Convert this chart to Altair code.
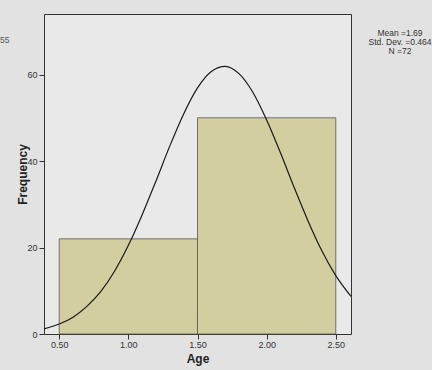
import altair as alt
import pandas as pd

# Histogram bins (Age) and counts
bin_start = [0.5, 1.5]
bin_end = [1.5, 2.5]
counts = [22, 50]

# Normal curve overlay
curve_x = [0.39, 0.5, 0.6, 0.7, 0.8, 0.9, 1.0, 1.1, 1.2, 1.3, 1.4, 1.5, 1.6, 1.7,
           1.8, 1.9, 2.0, 2.1, 2.2, 2.3, 2.4, 2.5, 2.61]
curve_y = [1.2, 2.3, 3.9, 6.4, 9.8, 14.5, 20.5, 27.6, 35.4, 43.5, 50.9, 56.9, 60.7, 61.9,
           60.2, 55.9, 49.5, 41.9, 33.8, 26.1, 19.2, 13.5, 8.7]

x_ticks = [0.5, 1.0, 1.5, 2.0, 2.5]
y_ticks = [0, 20, 40, 60]

stats_lines = ["Mean =1.69", "Std. Dev. =0.464", "N =72"]

bars = pd.DataFrame({"start": bin_start, "end": bin_end, "count": counts})
curve = pd.DataFrame({"x": curve_x, "y": curve_y})

FONT = "Liberation Sans"
xscale = alt.Scale(domain=[0.39, 2.61], nice=False, zero=False)
yscale = alt.Scale(domain=[0, 74], nice=False)

xaxis = alt.Axis(values=x_ticks, format=".2f", title="Age", grid=False, domain=False,
                 labelFont=FONT, labelFontSize=9, labelColor="#333333",
                 tickColor="#333333", tickSize=5, labelPadding=1,
                 titleFont=FONT, titleFontSize=12, titleFontWeight="bold",
                 titleColor="#222222", titleY=24, titleBaseline="middle")
yaxis = alt.Axis(values=y_ticks, title="Frequency", grid=False, domain=False,
                 labelFont=FONT, labelFontSize=9, labelColor="#333333",
                 tickColor="#333333", tickSize=5, labelPadding=2,
                 titleFont=FONT, titleFontSize=12, titleFontWeight="bold",
                 titleColor="#222222", titleX=-22, titleBaseline="middle")

bar_layer = alt.Chart(bars).mark_rect(
    fill="#d2cea0", stroke="#555555", strokeWidth=0.8
).encode(
    x=alt.X("start:Q", scale=xscale, axis=xaxis),
    x2="end:Q",
    y=alt.Y("count:Q", scale=yscale, axis=yaxis),
    y2=alt.datum(0),
)

line_layer = alt.Chart(curve).mark_line(
    color="#1a1a1a", strokeWidth=1.2, interpolate="monotone"
).encode(x=alt.X("x:Q", scale=xscale), y=alt.Y("y:Q", scale=yscale))

stats_layers = [
    alt.Chart(pd.DataFrame({"t": [s]})).mark_text(
        font=FONT, fontSize=8.5, color="#333333", align="center", baseline="middle"
    ).encode(x=alt.value(356), y=alt.value(19 + 9 * k), text="t:N")
    for k, s in enumerate(stats_lines)
]

frag_layer = alt.Chart(pd.DataFrame({"t": ["55"]})).mark_text(
    font=FONT, fontSize=8.5, color="#555555", align="left", baseline="middle"
).encode(x=alt.value(-44), y=alt.value(26), text="t:N")

chart = alt.layer(bar_layer, line_layer, *stats_layers, frag_layer).properties(
    width=307, height=320,
    autosize=alt.AutoSizeParams(type="none"),
    padding={"left": 44, "top": 14, "right": 81, "bottom": 36},
    background="#e2e2e2",
).configure_view(
    fill="#e9e9e9", stroke="#333333", strokeWidth=1
)

chart.save("out.html", embed_options={"renderer": "svg", "actions": False})
